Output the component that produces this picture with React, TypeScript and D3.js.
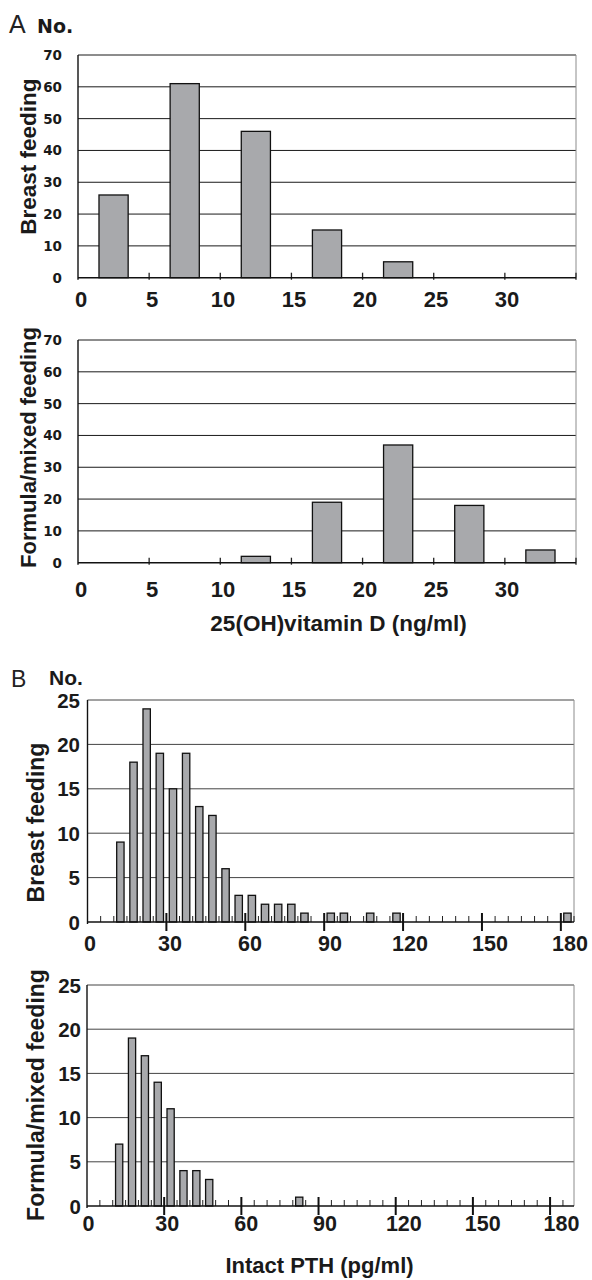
import React from "react";
import * as d3 from "d3";

// ---------- Data ----------
// Panel A: 25(OH)vitamin D, 5 ng/ml bins (bin start values)
const vitDBinStarts = [0, 5, 10, 15, 20, 25, 30];
const vitDBreast = [26, 61, 46, 15, 5, 0, 0];
const vitDFormula = [0, 0, 2, 19, 37, 18, 4];
const vitDXTicks = [0, 5, 10, 15, 20, 25, 30];
const vitDYTicks = [0, 10, 20, 30, 40, 50, 60, 70];

// Panel B: intact PTH, 5 pg/ml bins (bin start values)
const pthBinStarts = [
  10, 15, 20, 25, 30, 35, 40, 45, 50, 55, 60, 65, 70, 75, 80, 85, 90, 95, 100,
  105, 110, 115, 120, 125, 130, 135, 140, 145, 150, 155, 160, 165, 170, 175, 180,
];
const pthBreast = [
  9, 18, 24, 19, 15, 19, 13, 12, 6, 3, 3, 2, 2, 2, 1, 0, 1, 1, 0, 1, 0, 1, 0, 0,
  0, 0, 0, 0, 0, 0, 0, 0, 0, 0, 1,
];
const pthFormula = [
  7, 19, 17, 14, 11, 4, 4, 3, 0, 0, 0, 0, 0, 0, 1, 0, 0, 0, 0, 0, 0, 0, 0, 0, 0,
  0, 0, 0, 0, 0, 0, 0, 0, 0, 0,
];
const pthXTicks = [0, 30, 60, 90, 120, 150, 180];
const pthMinorTicks = [
  5, 10, 15, 20, 25, 35, 40, 45, 50, 55, 65, 70, 75, 80, 85, 95, 100, 105, 110,
  115, 125, 130, 135, 140, 145, 155, 160, 165, 170, 175, 185,
];
const pthYTicks = [0, 5, 10, 15, 20, 25];

const BAR_FILL = "#a8a9ac";
const SANS = "'Liberation Sans', Arial, Helvetica, sans-serif";
const WIDE = "'DejaVu Sans', Verdana, sans-serif";

type PanelProps = {
  left: number;
  right: number;
  top: number;
  bottom: number;
  xMax: number;
  yMax: number;
  binStarts: number[];
  values: number[];
  binWidth: number;
  barWidth: number;
  xTicks: number[];
  yTicks: number[];
  minorTicks?: number[];
  kind: "A" | "B";
  labelRange: [number, number];
  labelBaseline: number;
  yLabelX: number;
  gridColor: string;
};

function Panel(p: PanelProps) {
  const x = d3.scaleLinear().domain([0, p.xMax]).range([p.left, p.right]);
  const y = d3.scaleLinear().domain([0, p.yMax]).range([p.bottom, p.top]);
  const lx = d3
    .scaleLinear()
    .domain([p.xTicks[0], p.xTicks[p.xTicks.length - 1]])
    .range(p.labelRange);
  const bars = p.binStarts
    .map((s, i) => ({ c: s + p.binWidth / 2, v: p.values[i] }))
    .filter((d) => d.v > 0);
  const isA = p.kind === "A";
  return (
    <g>
      {p.yTicks
        .filter((t) => t > 0)
        .map((t) => (
          <line
            key={"g" + t}
            x1={p.left}
            x2={p.right}
            y1={y(t)}
            y2={y(t)}
            stroke={p.gridColor}
            strokeWidth={1}
          />
        ))}
      <line
        x1={p.right}
        x2={p.right}
        y1={p.top}
        y2={p.bottom}
        stroke="#8c8c8c"
        strokeWidth={1}
      />
      {isA &&
        p.xTicks
          .slice(1)
          .concat([p.xMax])
          .map((t) => (
            <line
              key={"t" + t}
              x1={x(t)}
              x2={x(t)}
              y1={p.bottom - 5}
              y2={p.bottom + 2}
              stroke="#222"
              strokeWidth={1.3}
            />
          ))}
      {!isA &&
        (p.minorTicks || []).map((t) => (
          <line
            key={"m" + t}
            x1={x(t)}
            x2={x(t)}
            y1={p.bottom - 6}
            y2={p.bottom}
            stroke="#222"
            strokeWidth={1}
          />
        ))}
      {!isA &&
        p.xTicks.slice(1).map((t) => (
          <line
            key={"M" + t}
            x1={x(t)}
            x2={x(t)}
            y1={p.bottom - 9}
            y2={p.bottom + 9}
            stroke="#111"
            strokeWidth={2}
          />
        ))}
      {bars.map((d) => (
        <rect
          key={"b" + d.c}
          x={x(d.c - p.barWidth / 2)}
          width={x(d.c + p.barWidth / 2) - x(d.c - p.barWidth / 2)}
          y={y(d.v)}
          height={y(0) - y(d.v)}
          fill={BAR_FILL}
          stroke="#111"
          strokeWidth={1.3}
        />
      ))}
      <line
        x1={p.left}
        x2={p.right}
        y1={p.bottom}
        y2={p.bottom}
        stroke="#111"
        strokeWidth={1.6}
      />
      <line
        x1={p.left}
        x2={p.left}
        y1={p.top}
        y2={p.bottom + 2}
        stroke="#111"
        strokeWidth={1.4}
      />
      {p.yTicks.map((t) => (
        <text
          key={"yl" + t}
          x={p.yLabelX}
          y={y(t)}
          textAnchor="end"
          dominantBaseline="central"
          fontFamily={isA ? WIDE : SANS}
          fontWeight="bold"
          fontSize={isA ? 13.5 : 20.5}
          fill="#1a1a1a"
        >
          {t}
        </text>
      ))}
      {p.xTicks.map((t) => (
        <text
          key={"xl" + t}
          x={lx(t)}
          y={p.labelBaseline}
          textAnchor="middle"
          fontFamily={SANS}
          fontWeight="bold"
          fontSize={isA ? 22 : 21.5}
          fill="#1a1a1a"
        >
          {t}
        </text>
      ))}
    </g>
  );
}

function RotLabel({
  x,
  y,
  text,
  size,
}: {
  x: number;
  y: number;
  text: string;
  size: number;
}) {
  return (
    <text
      transform={`translate(${x},${y}) rotate(-90)`}
      textAnchor="middle"
      fontFamily={SANS}
      fontWeight="bold"
      fontSize={size}
      fill="#1a1a1a"
    >
      {text}
    </text>
  );
}

export default function App() {
  return (
    <svg
      width={592}
      height={1280}
      style={{ position: "absolute", left: 0, top: 0, display: "block", background: "#fff" }}
    >
      <rect width={592} height={1280} fill="#fff" />
      <text x={9} y={33} fontFamily={SANS} fontSize={25} fill="#222">
        A
      </text>
      <text x={37} y={33} fontFamily={WIDE} fontWeight="bold" fontSize={19} fill="#1a1a1a">
        No.
      </text>
      <Panel
        kind="A"
        left={78}
        right={576}
        top={55}
        bottom={277.7}
        xMax={35}
        yMax={70}
        binStarts={vitDBinStarts}
        values={vitDBreast}
        binWidth={5}
        barWidth={2.05}
        xTicks={vitDXTicks}
        yTicks={vitDYTicks}
        labelRange={[81, 507]}
        labelBaseline={307}
        yLabelX={62}
        gridColor="#1a1a1a"
      />
      <RotLabel x={35.5} y={156.7} text="Breast feeding" size={22.5} />
      <Panel
        kind="A"
        left={78}
        right={576}
        top={340}
        bottom={562.7}
        xMax={35}
        yMax={70}
        binStarts={vitDBinStarts}
        values={vitDFormula}
        binWidth={5}
        barWidth={2.05}
        xTicks={vitDXTicks}
        yTicks={vitDYTicks}
        labelRange={[81, 507]}
        labelBaseline={597}
        yLabelX={62}
        gridColor="#1a1a1a"
      />
      <RotLabel x={35.5} y={447.5} text="Formula/mixed feeding" size={22} />
      <text
        x={338.5}
        y={631}
        textAnchor="middle"
        fontFamily={SANS}
        fontWeight="bold"
        fontSize={22.5}
        fill="#1a1a1a"
      >
        25(OH)vitamin D (ng/ml)
      </text>

      <text x={11} y={686.5} fontFamily={SANS} fontSize={23} fill="#222">
        B
      </text>
      <text x={49} y={685} fontFamily={SANS} fontWeight="bold" fontSize={21} fill="#1a1a1a">
        No.
      </text>
      <Panel
        kind="B"
        left={87.5}
        right={574}
        top={700}
        bottom={922}
        xMax={185}
        yMax={25}
        binStarts={pthBinStarts}
        values={pthBreast}
        binWidth={5}
        barWidth={2.8}
        xTicks={pthXTicks}
        yTicks={pthYTicks}
        minorTicks={pthMinorTicks}
        labelRange={[90, 570]}
        labelBaseline={951}
        yLabelX={80}
        gridColor="#444"
      />
      <RotLabel x={43.5} y={822.5} text="Breast feeding" size={23} />
      <Panel
        kind="B"
        left={87}
        right={574}
        top={985}
        bottom={1206}
        xMax={189.3}
        yMax={25}
        binStarts={pthBinStarts}
        values={pthFormula}
        binWidth={5}
        barWidth={2.8}
        xTicks={pthXTicks}
        yTicks={pthYTicks}
        minorTicks={pthMinorTicks}
        labelRange={[88.5, 561.5]}
        labelBaseline={1231}
        yLabelX={81}
        gridColor="#444"
      />
      <RotLabel x={44} y={1095} text="Formula/mixed feeding" size={23} />
      <text
        x={319.5}
        y={1273}
        textAnchor="middle"
        fontFamily={SANS}
        fontWeight="bold"
        fontSize={22}
        fill="#1a1a1a"
      >
        Intact PTH (pg/ml)
      </text>
    </svg>
  );
}
